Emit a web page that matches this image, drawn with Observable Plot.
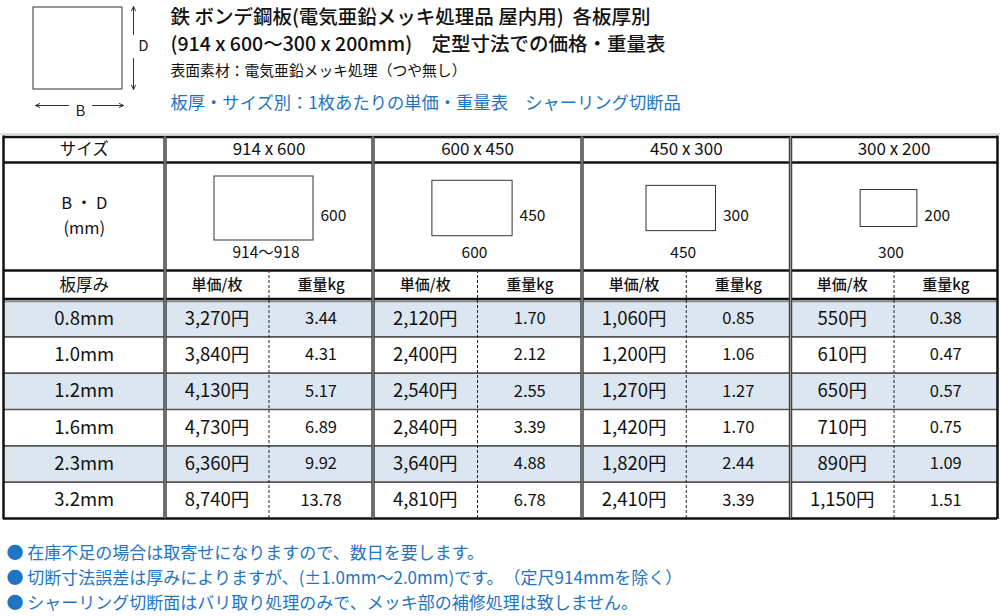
<!DOCTYPE html>
<html><head><meta charset="utf-8">
<script src="https://cdn.jsdelivr.net/npm/d3@7"></script>
<script src="https://cdn.jsdelivr.net/npm/@observablehq/plot@0.6"></script>
<style>body{margin:0;background:#fff;overflow:hidden}</style>
</head><body><div id="chart"></div>
<script>
// ---- data ----
const sizes = ["914 x 600", "600 x 450", "450 x 300", "300 x 200"];
const sizeB = [914, 600, 450, 300];
const sizeD = [600, 450, 300, 200];
const labelB = ["914〜918", "600", "450", "300"];
const thicknesses = ["0.8mm", "1.0mm", "1.2mm", "1.6mm", "2.3mm", "3.2mm"];
const prices914 = [3270, 3840, 4130, 4730, 6360, 8740];
const weights914 = [3.44, 4.31, 5.17, 6.89, 9.92, 13.78];
const prices600 = [2120, 2400, 2540, 2840, 3640, 4810];
const weights600 = [1.70, 2.12, 2.55, 3.39, 4.88, 6.78];
const prices450 = [1060, 1200, 1270, 1420, 1820, 2410];
const weights450 = [0.85, 1.06, 1.27, 1.70, 2.44, 3.39];
const prices300 = [550, 610, 650, 710, 890, 1150];
const weights300 = [0.38, 0.47, 0.57, 0.75, 1.09, 1.51];
const titleLines = [
  "鉄 ボンデ鋼板(電気亜鉛メッキ処理品 屋内用)  各板厚別",
  "(914 x 600〜300 x 200mm)　定型寸法での価格・重量表"
];
const subTitle = "表面素材：電気亜鉛メッキ処理（つや無し）";
const blueTitle = "板厚・サイズ別：1枚あたりの単価・重量表　シャーリング切断品";
const headerLabels = ["サイズ", "B・D", "(mm)", "板厚み"];
const subHeaders = ["単価/枚", "重量kg"];
const footnotes = [
  "在庫不足の場合は取寄せになりますので、数日を要します。",
  "切断寸法誤差は厚みによりますが、(±1.0mm〜2.0mm)です。　（定尺914mmを除く）",
  "シャーリング切断面はバリ取り処理のみで、メッキ部の補修処理は致しません。"
];

const prices = [prices914, prices600, prices450, prices300];
const weights = [weights914, weights600, weights450, weights300];

// ---- layout ----
const FONT = "'Noto Sans CJK JP', 'Noto Sans', sans-serif";
const colX = [3, 164.5, 372.5, 581.5, 790, 997];
const yTop = 136.5, ySize = 162, yBD = 270, yHdr = 299, yBottom = 518;
const rowH = (yBottom - 300) / thicknesses.length;
const rowTop = i => 300 + i * rowH;
const gL = g => colX[g + 1], gR = g => colX[g + 2], gM = g => (gL(g) + gR(g)) / 2;
const col0M = (colX[0] + colX[1]) / 2;
const BLUE = "#1f74c4";

const rowFills = thicknesses.map((t, i) => ({
  x1: colX[0], x2: colX[5], y1: rowTop(i), y2: rowTop(i + 1), fill: i % 2 === 0 ? "#dce6f1" : "#ffffff"
}));

// sheet drawings, sized from B and D
const wScale = d3.scalePow().exponent(0.5).domain([0, 914]).range([0, 99]);
const hScale = d3.scalePow().exponent(0.5).domain([0, 600]).range([0, 64]);
const sheets = sizes.map((s, g) => {
  const w = wScale(sizeB[g]), h = hScale(sizeD[g]);
  const cx = gM(g) - 5, cy = 208;
  return {x1: cx - w / 2, x2: cx + w / 2, y1: cy - h / 2, y2: cy + h / 2, d: String(sizeD[g]), b: labelB[g], cx};
});

const cells = [];
thicknesses.forEach((t, i) => {
  sizes.forEach((s, g) => {
    const yc = rowTop(i) + rowH / 2;
    cells.push({x: (gL(g) + gM(g)) / 2, y: yc, t: d3.format(",")(prices[g][i]) + "円", k: "p"});
    cells.push({x: (gM(g) + gR(g)) / 2, y: yc, t: weights[g][i].toFixed(2), k: "w"});
  });
});

const subHdr = [];
sizes.forEach((s, g) => {
  subHdr.push({x: (gL(g) + gM(g)) / 2, y: 285, t: subHeaders[0]});
  subHdr.push({x: (gM(g) + gR(g)) / 2, y: 285, t: subHeaders[1]});
});

const hLinesData = d3.range(1, thicknesses.length).map(i => rowTop(i));

const chart = Plot.plot({
  width: 1000, height: 616, margin: 0,
  x: {domain: [0, 1000], range: [0, 1000], axis: null},
  y: {domain: [0, 616], range: [0, 616], axis: null},
  style: {fontFamily: FONT, background: "#fff"},
  marks: [
    // top-left diagram
    Plot.rect([{x1: 33, x2: 122, y1: 7, y2: 89}], {x1: "x1", x2: "x2", y1: "y1", y2: "y2", fill: "white", stroke: "#333", strokeWidth: 1}),
    Plot.arrow([{x1: 133, y1: 34, x2: 133, y2: 6}, {x1: 133, y1: 58, x2: 133, y2: 89},
                {x1: 68, y1: 105, x2: 35, y2: 105}, {x1: 92, y1: 105, x2: 123, y2: 105}],
      {x1: "x1", y1: "y1", x2: "x2", y2: "y2", stroke: "#333", strokeWidth: 1, headLength: 7, headAngle: 50}),
    Plot.text([{x: 143, y: 46, t: "D"}, {x: 80, y: 111, t: "B"}], {x: "x", y: "y", text: "t", fontSize: 15, fill: "#222"}),
    // titles
    Plot.text(titleLines.map((t, i) => ({t, y: 17 + i * 27})), {x: 170, y: "y", text: "t", textAnchor: "start", fontSize: 19.5, fill: "#111", fontWeight: 500}),
    Plot.text([subTitle], {x: 170, y: 71, text: d => d, textAnchor: "start", fontSize: 14.8, fill: "#111"}),
    Plot.text([blueTitle], {x: 170, y: 103, text: d => d, textAnchor: "start", fontSize: 17.3, fill: BLUE}),
    // thin outer line above table
    Plot.ruleY([133.5], {x1: 0, x2: 1000, stroke: "#bbb", strokeWidth: 1}),
    // row fills
    Plot.rect(rowFills, {x1: "x1", x2: "x2", y1: "y1", y2: "y2", fill: "fill"}),
    // horizontal lines
    Plot.ruleY(hLinesData, {x1: colX[0], x2: colX[5], stroke: "#555", strokeWidth: 1.6}),
    Plot.ruleY([yHdr + 2], {x1: colX[0], x2: colX[5], stroke: "#888", strokeWidth: 1.5}),
    Plot.ruleY([yTop, ySize, yBD, yHdr - 0.5, yBottom], {x1: colX[0], x2: colX[5], stroke: "#111", strokeWidth: 2.5}),
    // dashed subdividers
    Plot.ruleX(sizes.map((s, g) => gM(g)), {y1: yBD, y2: yBottom, stroke: "#222", strokeWidth: 1, strokeDasharray: "3,2"}),
    // group dividers (double)
    Plot.ruleX(colX.slice(1, 5), {y1: yTop, y2: yBottom, stroke: "#444", strokeWidth: 3.5}),
    Plot.ruleX(colX.slice(1, 5), {y1: yTop, y2: yBottom, stroke: "#aaa", strokeWidth: 0.8}),
    Plot.ruleX([colX[0], colX[5]], {y1: yTop - 1, y2: yBottom + 1, stroke: "#111", strokeWidth: 2.5}),
    // sheet drawings
    Plot.rect(sheets, {x1: "x1", x2: "x2", y1: "y1", y2: "y2", fill: "white", stroke: "#333", strokeWidth: 1}),
    Plot.text(sheets, {x: "x2", y: 216, dx: 7, text: "d", textAnchor: "start", fontSize: 15.5, fill: "#111"}),
    Plot.text(sheets, {x: d => d.cx + 2, y: 253, text: "b", fontSize: 15.5, fill: "#111"}),
    // header texts
    Plot.text(sizes.map((s, g) => ({x: gM(g), t: s})), {x: "x", y: 149, text: "t", fontSize: 17, fill: "#111"}),
    Plot.text([{y: 149, t: headerLabels[0]}, {y: 285, t: headerLabels[3]}], {x: col0M, y: "y", text: "t", fontSize: 16.5, fill: "#111"}),
    Plot.text([{y: 203, t: "B ・ D"}, {y: 228, t: headerLabels[2]}], {x: col0M, y: "y", text: "t", fontSize: 16.5, fill: "#111"}),
    Plot.text(subHdr, {x: "x", y: "y", text: "t", fontSize: 15, fontWeight: 500, fill: "#111"}),
    // data
    Plot.text(thicknesses.map((t, i) => ({t, y: rowTop(i) + rowH / 2})), {x: col0M, y: "y", text: "t", fontSize: 18.5, fill: "#111"}),
    Plot.text(cells.filter(d => d.k === "p"), {x: "x", y: "y", text: "t", fontSize: 18.5, fill: "#111"}),
    Plot.text(cells.filter(d => d.k === "w"), {x: "x", y: "y", text: "t", fontSize: 16.5, fill: "#111"}),
    // footnotes
    Plot.text(footnotes.map((t, i) => ({t: "● " + t, y: 553 + i * 25})), {x: 6, y: "y", text: "t", textAnchor: "start", fontSize: 17, fill: BLUE})
  ]
});
document.getElementById("chart").appendChild(chart);
</script>
</body></html>
